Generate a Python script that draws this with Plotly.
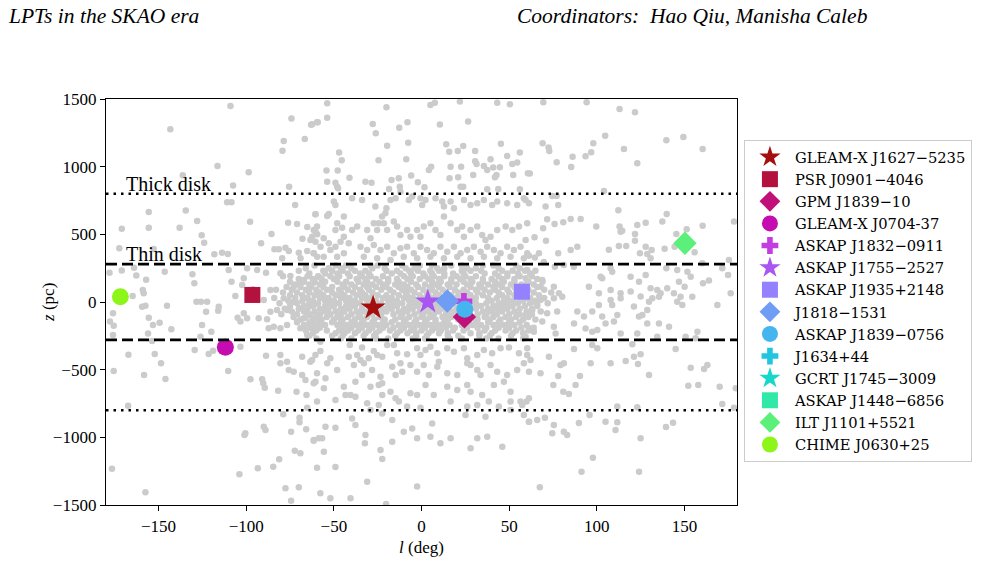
import plotly.graph_objects as go

# ---------------- LPT sources ----------------
lpt_names = ["GLEAM-X J1627−5235", "PSR J0901−4046", "GPM J1839−10", "GLEAM-X J0704-37",
             "ASKAP J1832−0911", "ASKAP J1755−2527", "ASKAP J1935+2148", "J1818−1531",
             "ASKAP J1839−0756", "J1634+44", "GCRT J1745−3009", "ASKAP J1448−6856",
             "ILT J1101+5521", "CHIME J0630+25"]
lpt_l = [-27.6, -96.5, 24.5, -111.9, 24.2, 3.6, 57.3, 14.7, 24.7, None, None, None, 150.3, -171.8]
lpt_z = [-42, 52, -110, -335, 5, 2, 76, 7, -54, None, None, None, 434, 39]
lpt_symbols = ["star", "square", "diamond", "circle", "cross", "star", "square", "diamond",
               "circle", "cross", "star", "square", "diamond", "circle"]
lpt_colors = ["#a50e0e", "#b3123f", "#c0107a", "#c40cb0", "#c23ee0", "#a955f2", "#9381ff",
              "#6f9cf5", "#45b5f0", "#20c5e0", "#15d8c8", "#30e8a8", "#5af07a", "#8ef51a"]

# ---------------- background pulsar population (l deg, z pc) ----------------
bg_upper_left = [
    (-109, 1449), (-143.3, 1276), (-116.4, 1005), (-136.2, 936), (-107.5, 860), (-110.9, 737), (-108.4, 737),
    (-155.6, 665), (-134.5, 677), (-128, 598), (-171, 542), (-155.6, 549), (-138, 549), (-125.4, 493),
    (-124, 438), (-172.4, 397), (-152.8, 392), (-118.2, 352), (-113.8, 364), (-110.5, 355), (-178, 217),
    (-171, 232), (-164, 254), (-162.7, 195), (-157.1, 165), (-146.5, 224), (-130.7, 205), (-129.6, 138),
    (-110, 236), (-108.4, 150),
    (-74.2, 1355), (-63, 1310), (-59.2, 1328), (-66.6, 1205), (-78.6, 1190), (-79.3, 1118), (-98.6, 958),
    (-75.5, 852), (-72.1, 717), (-60.5, 648), (-97.8, 593), (-76.1, 586), (-71, 576), (-65.2, 554),
    (-85.6, 502), (-91.5, 434), (-67.9, 468), (-63.4, 458), (-59.5, 500), (-61.5, 532), (-83.9, 389),
    (-81.4, 389), (-77.6, 401), (-75.7, 377), (-70, 364), (-65.2, 377), (-61.5, 360), (-59.5, 335),
    (-79.5, 323), (-69, 323),
    (-99.5, 249), (-93.8, 236), (-101.4, 175), (-102.3, 126), (-96.1, 94), (-88.7, 217), (-86.2, 89),
    (-80.5, 212), (-74.8, 192), (-72.9, 113), (-69.1, 138), (-67.2, 163), (-65.2, 89), (-61.5, 143),
    (-58.6, 187),
]
bg_lower_left = [
    (-164.8, 44), (-159, 89), (-158.5, 64), (-159.4, -35), (-157.5, -27), (-176, -84), (-177.7, -145),
    (-175.6, -175), (-176, -244), (-167.2, -389), (-175.6, -510), (-158.3, -539), (-155.6, -116),
    (-153.2, -170), (-149.4, -153), (-156, -232), (-153.7, -288), (-152.2, -384), (-148.6, -453),
    (-146.1, -569), (-145.2, -27), (-142.7, -202), (-128.4, 2), (-125.8, 2), (-122.3, 2), (-122.9, -72),
    (-125.2, -170), (-126.1, -256), (-119.9, -219), (-115.7, -35), (-116, -64), (-129.4, -355),
    (-121.4, -384), (-118.9, -360), (-110.3, -510), (-167.4, -766), (-176.6, -1232), (-157.5, -1406),
    (-103.9, -1273),
    (-106.2, 44), (-101.4, -84), (-99.5, -120), (-104.9, -116), (-103.3, -145), (-92.9, -120),
    (-88.1, -128), (-84.3, -183), (-87.2, -194),
    (-95.7, 27), (-90, 15), (-86.2, -72), (-82.4, -59), (-78.6, 27), (-76.7, -59), (-72.9, 2),
    (-69.1, -47), (-65.2, 27), (-61.5, -22), (-63.4, -96), (-67.2, -120), (-70.9, -145), (-76.7, -170),
    (-80.5, -194), (-69.1, -194), (-61.5, -194), (-58.6, -145), (-65.2, -244),
    (-103.3, -330), (-88.7, -397), (-97.6, -571), (-90.9, -571), (-90.3, -601), (-89.4, -633),
    (-81.8, -655), (-80.5, -392), (-80.5, -453), (-76.7, -441), (-75.7, -503), (-72.9, -515),
    (-68.1, -539), (-66.2, -576), (-68.1, -404), (-63.4, -441), (-60.5, -392), (-61.5, -601),
    (-71.3, -663), (-65.6, -687), (-65.2, -781), (-78.9, -830), (-69.6, -855), (-69.6, -889),
    (-90, -921), (-89, -946), (-100.5, -970), (-101, -983), (-74.4, -958), (-65.8, -941),
    (-61.5, -1025), (-58.6, -1007), (-72.3, -1099), (-69.1, -1118), (-81.2, -1162), (-93.4, -1229),
    (-84.6, -1217), (-77.6, -1377), (-70, -1369), (-74.4, -1468), (-20.2, -1493),
]
bg_upper_mid = [
    (-53.8, 1468), (-20.0, 1439), (5.1, 1456), (7.6, 1473), (21.9, 1481), (43.2, 1473), (50.4, 1461),
    (-59.6, 1328), (-62.4, 1313), (-53.8, 1362), (-27.8, 1315), (-26.1, 1246), (-12.7, 1288),
    (-8.0, 1328), (10.5, 1311), (26.6, 1333), (-19.6, 1155), (-7.6, 1177), (-47.0, 1104), (-45.5, 1047),
    (-24.5, 1047), (-8.7, 1054), (14.1, 1165), (15.8, 1111), (20.7, 1116), (23.8, 1153), (30.6, 1116),
    (30.6, 1040), (31.4, 1020), (45.3, 1170), (39.4, 1054), (48.9, 1079), (51.8, 1020), (54.6, 1030),
    (56.1, 1104), (-54.2, 971), (-47.8, 971), (-41.1, 919), (-53.8, 889), (-49.1, 882), (-48.1, 852),
    (-47.6, 840), (-32.0, 889), (-28.5, 882), (-17.1, 902), (-13.0, 914), (-12.4, 852), (-18.5, 835),
    (-5.9, 934), (-2.1, 884), (1.7, 847), (4.2, 976), (5.5, 1000), (16.6, 1000), (16.0, 914),
    (20.9, 921), (22.6, 1000), (22.3, 852), (23.8, 852), (29.5, 939), (35.6, 1005), (37.5, 976),
    (40.9, 993), (44.7, 995), (41.9, 921), (42.8, 939), (37.5, 833), (43.8, 835), (52.3, 939),
    (56.1, 833), (60.7, 951),
    (-60.5, 648), (-53.8, 636), (-52.9, 650), (-49.1, 717), (-50.0, 742), (-44.3, 631), (-48.1, 581),
    (-49.1, 532), (-45.3, 549), (-59.6, 557), (-60.5, 520), (-62.4, 483), (-60.5, 446), (-55.8, 471),
    (-52.9, 434), (-57.6, 409), (-52.0, 384), (-49.1, 409), (-61.5, 360), (-55.8, 335), (-48.1, 335),
    (-44.3, 360), (-41.5, 434), (-39.6, 532), (-44.3, 483), (-46.2, 446), (-39.6, 766),
    (-33.9, 754), (-26.3, 705), (-27.2, 581), (-24.4, 581), (-20.6, 655), (-22.5, 631), (-20.0, 692),
    (-17.7, 754), (-14.8, 766), (-12.0, 815), (-7.2, 754), (-5.3, 779), (-0.6, 766), (0.4, 717),
    (2.3, 754), (8.0, 766), (11.8, 742), (12.8, 705), (16.6, 742), (18.5, 692),
    (24.2, 754), (28.0, 717), (31.8, 729), (35.6, 754), (40.3, 717), (43.2, 742), (48.9, 729),
    (54.6, 717), (58.4, 766), (61.3, 729),
    (-36.7, 557), (-31.0, 532), (-29.1, 471), (-25.3, 532), (-21.5, 581), (-19.6, 532), (-15.8, 594),
    (-13.9, 557), (-12.0, 495), (-8.2, 532), (-6.3, 483), (-2.5, 532), (-0.6, 483), (1.3, 557),
    (5.1, 581), (8.0, 532), (10.8, 495), (12.8, 631), (16.6, 581), (20.4, 532), (23.2, 557),
    (24.2, 483), (28.0, 532), (31.8, 557), (34.6, 495), (36.5, 458), (39.4, 483), (43.2, 532),
    (48.0, 557), (51.8, 532), (55.6, 557), (59.4, 458), (60.3, 581),
    (-34.8, 409), (-31.0, 384), (-27.2, 421), (-23.4, 384), (-19.6, 409), (-15.8, 360), (-12.0, 397),
    (-8.2, 409), (-4.4, 360), (-0.6, 409), (3.2, 384), (7.0, 360), (10.8, 409), (14.7, 372),
    (18.5, 409), (22.3, 360), (26.1, 384), (29.9, 409), (33.7, 372), (37.5, 409), (41.3, 384),
    (45.1, 360), (48.9, 409), (52.7, 384), (56.5, 409), (60.3, 360),
    (-32.9, 335), (-25.3, 323), (-17.7, 311), (-10.1, 335), (-2.5, 323), (5.1, 335), (12.8, 323),
    (20.4, 335), (28.0, 323), (35.6, 335), (43.2, 323), (50.8, 335), (58.4, 323),
]
bg_lower_mid = [
    (-57.7, -293), (-57.7, -362), (-52.0, -416), (-40.9, -318), (-33.9, -337), (-41.5, -404),
    (-36.7, -392), (-34.8, -429), (-30.1, -416), (-27.2, -362), (-25.3, -392), (-22.4, -404),
    (-19.6, -318), (-15.8, -318), (-13.9, -379), (-8.2, -387), (-2.5, -342), (-0.6, -392), (2.3, -355),
    (5.1, -330), (9.0, -379), (14.7, -342), (18.5, -367), (24.2, -342), (26.1, -416), (31.8, -392),
    (35.6, -355), (40.3, -379), (45.1, -342), (49.9, -337), (55.6, -379), (60.3, -342),
    (-62.4, -428), (-53.8, -453), (-48.1, -502), (-59.6, -527), (-60.5, -589), (-54.8, -564),
    (-38.6, -466), (-32.9, -453), (-28.2, -502), (-33.9, -539), (-37.7, -589), (-44.3, -626),
    (-40.5, -687), (-23.4, -552), (-22.4, -601), (-16.7, -478), (-14.8, -539), (-11.0, -515),
    (-12.0, -453), (-6.3, -466), (-2.5, -515), (1.3, -466), (4.2, -539), (9.0, -478), (9.9, -441),
    (14.7, -527), (20.4, -539), (26.1, -453), (28.0, -466), (31.8, -502), (33.7, -539), (39.4, -466),
    (43.2, -515), (48.9, -539), (54.6, -502), (58.4, -453), (61.3, -515),
    (-55.7, -638), (-49.1, -724), (-43.4, -687), (-37.7, -700), (-29.1, -626), (-24.4, -613),
    (-22.4, -687), (-17.7, -663), (-14.8, -712), (-12.9, -736), (-6.3, -675), (-2.5, -687),
    (2.3, -613), (7.0, -687), (14.7, -626), (20.4, -650), (26.1, -613), (28.0, -663), (34.6, -687),
    (38.4, -736), (41.3, -613), (47.0, -589), (50.8, -663), (50.8, -736), (56.5, -736), (61.3, -712),
    (-59.6, -736), (-31.0, -749), (-24.4, -761), (-8.2, -773), (-0.6, -781), (16.6, -736),
    (26.1, -773), (31.8, -761), (44.1, -773),
    (-54.8, -921), (-49.1, -929), (-39.6, -860), (-37.7, -909), (-29.1, -798), (-22.4, -823),
    (-16.7, -872), (-10.1, -958), (-5.3, -934), (6.1, -897), (5.1, -995), (-2.5, -1007),
    (-16.7, -1032), (-32.0, -983), (-32.3, -1044), (-56.7, -1007), (-61.5, -1020), (16.6, -1007),
    (10.8, -1044), (31.8, -1007), (37.5, -995), (46.1, -1069), (28.0, -1081), (25.1, -835),
    (36.5, -847), (50.8, -798), (58.4, -835), (61.3, -884), (-23.4, -1094), (-55.7, -1106),
    (-22.4, -1160), (-59.6, -1224), (-49.1, -1219), (-31.0, -1328), (-2.5, -1364), (-57.7, -1414),
    (-52.0, -1451), (-40.5, -1451),
]
bg_upper_right = [
    (69.5, 1476), (94.2, 1476), (113.0, 1426), (121.8, 1402), (104.8, 1229), (139.7, 1195),
    (149.4, 1219), (160.4, 1131), (69.1, 1173), (72.5, 1141), (72.9, 1116), (98.0, 1173), (96.8, 1106),
    (93.6, 1077), (86.2, 1074), (85.4, 998), (77.1, 1032), (115.5, 1131), (123.1, 1025), (61.8, 949),
    (104.1, 820), (74.6, 783), (77.1, 783), (78.0, 717), (70.8, 705), (59.4, 754), (112.3, 678),
    (139.9, 651), (137.4, 594), (160.4, 564), (178.3, 594), (71.7, 611), (75.9, 577), (80.9, 589),
    (85.1, 614), (90.8, 614), (69.4, 545), (64.5, 478), (71.0, 453), (99.7, 557), (113.0, 557),
    (113.6, 520), (114.5, 527), (123.1, 569), (121.8, 503), (121.8, 453), (127.9, 586), (145.4, 503),
    (151.3, 537), (88.9, 409), (85.1, 384), (78.0, 360), (106.9, 387), (112.6, 414), (116.8, 414),
    (124.6, 360), (127.9, 409), (131.3, 384), (128.8, 355), (130.7, 323), (138.7, 394), (144.4, 409),
    (155.8, 367), (160.2, 286), (175.4, 311), (67.0, 360), (64.7, 328), (61.3, 342), (69.8, 296),
    (86.9, 261), (81.2, 274), (76.1, 261), (75.5, 113), (60.3, 237), (59.4, 175), (60.3, 138),
    (107.9, 249), (108.8, 224), (102.2, 187), (103.1, 175), (139.7, 249), (145.9, 237), (151.7, 224),
    (153.6, 187), (146.9, 150), (150.1, 113), (144.0, 64), (140.2, 101), (160.6, 138), (164.0, 158),
    (171.6, 249), (174.9, 200), (176.4, 64), (119.3, 187), (124.1, 150), (127.9, 200), (130.7, 101),
    (134.5, 89), (136.4, 64), (113.6, 64), (119.3, 77), (125.0, 40), (95.5, 113), (101.2, 64),
    (78.4, 64), (107.9, 89), (68.9, 163), (68.0, 113),
]
bg_lower_right = [
    (60.3, 27), (64.1, 2), (67.9, 15), (75.5, 27), (80.3, 39), (59.4, -96), (63.2, -59), (66.0, -22),
    (71.7, -84), (68.9, -145), (62.2, -195), (64.1, -219), (59.4, -256), (75.5, -182), (76.5, -232),
    (77.4, -71), (88.9, -71), (92.7, -108), (97.4, -71), (101.2, -22), (103.1, -108), (105.0, -158),
    (109.8, -145), (111.7, -96), (108.8, -22), (107.9, 15), (113.6, 27), (121.2, -34), (124.1, -108),
    (126.0, -96), (128.8, -59), (129.8, 2), (131.7, 27), (135.5, 39), (128.8, -158), (135.5, -158),
    (141.2, -182), (145.9, 2), (148.8, -22), (147.8, 39), (154.5, 39), (168.8, -22), (93.6, -195),
    (97.4, -219), (100.3, -207), (87.0, -158), (113.6, -232), (123.1, -232), (134.5, -256),
    (150.7, -256), (157.4, -219), (156.4, -268),
    (60.3, -392), (62.2, -429), (67.9, -527), (72.7, -404), (79.3, -466), (81.2, -453), (87.0, -347),
    (96.5, -453), (97.4, -318), (100.3, -342), (107.9, -453), (116.5, -436), (121.2, -404),
    (125.0, -387), (123.5, -458), (120.3, -313), (129.8, -539), (145.0, -347), (153.6, -485),
    (161.2, -495), (163.1, -466), (152.2, -618), (157.9, -613), (170.1, -626), (179.3, -638),
    (171.6, -754), (178.3, -781), (75.2, -613), (80.9, -663), (84.1, -680), (87.9, -613), (90.4, -547),
    (78.0, -547), (59.9, -736), (57.5, -761), (61.3, -884), (66.0, -872), (70.4, -855), (75.5, -909),
    (74.6, -970), (81.2, -958), (83.1, -983), (89.8, -894), (95.9, -835), (105.0, -884), (111.7, -889),
    (110.7, -946), (111.7, -773), (123.1, -778), (125.0, -1007), (139.5, -924), (143.5, -892),
    (97.8, -1150), (91.3, -1254), (124.1, -1254), (67.5, -1369),
]
# dense Galactic-plane core: each row is one z level (pc) with the l values (deg) read along it
core_z = [270, 250, 230, 210, 190, 170, 150, 130, 110, 90, 70, 50, 30, 10, -10, -30, -50, -70,
          -90, -110, -130, -150, -170, -190, -210, -230, -250, -270]
core_l = [
    [-61, -49, -43, -29, -25, -11, -1, 6, 17, 23, 35, 41, 54],
    [-66, -53, -46, -40, -28, -21, -9, -4, 9, 13, 26, 31, 44, 56],
    [-70, -56, -51, -45, -38, -32, -20, -14, -7, -2, 5, 10, 23, 28, 34, 46, 52, 59, 65],
    [-64, -55, -48, -42, -35, -30, -17, -12, -6, 1, 6, 13, 18, 24, 36, 42, 49, 55, 62],
    [-79, -65, -59, -52, -47, -41, -34, -29, -22, -10, -5, 2, 7, 13, 20, 25, 31, 44, 49, 56, 63],
    [-70, -62, -57, -50, -37, -32, -26, -19, -14, -8, -1, 4, 10, 17, 22, 28, 35, 40, 46, 53, 66],
    [-75, -67, -61, -55, -48, -43, -36, -31, -24, -19, -13, -6, 6, 11, 17, 24, 29, 35, 42, 47, 53, 61, 69],
    [-72, -64, -58, -45, -40, -33, -28, -22, -15, -10, -3, 2, 8, 15, 20, 26, 33, 38, 44, 51, 57, 64],
    [-77, -69, -63, -56, -51, -44, -38, -31, -26, -20, -13, -8, -2, 5, 10, 16, 28, 34, 41, 46, 53, 59, 66],
    [-83, -74, -66, -60, -54, -47, -42, -35, -30, -23, -18, -11, -6, 1, 6, 12, 19, 24, 31, 36, 42, 49, 54, 61, 70],
    [-79, -71, -64, -58, -51, -46, -39, -34, -28, -16, -9, -4, 3, 8, 14, 21, 26, 32, 39, 44, 50, 57, 64, 74],
    [-75, -68, -61, -56, -49, -44, -37, -32, -25, -20, -13, -8, -1, 4, 10, 17, 22, 28, 35, 46, 53, 59, 67],
    [-84, -72, -65, -58, -53, -46, -41, -34, -29, -22, -17, -10, -5, 2, 7, 13, 20, 25, 31, 38, 43, 49, 56, 62, 70],
    [-76, -68, -62, -55, -50, -43, -38, -31, -26, -19, -14, -7, -2, 4, 11, 16, 22, 29, 40, 47, 52, 58, 65],
    [-81, -71, -64, -59, -52, -47, -40, -35, -28, -23, -16, -11, -4, 1, 8, 13, 19, 26, 31, 37, 44, 49, 55, 62, 72],
    [-75, -67, -62, -55, -50, -43, -38, -26, -19, -14, -7, -2, 5, 10, 16, 23, 28, 34, 41, 46, 52, 59, 66],
    [-78, -70, -65, -58, -53, -46, -41, -34, -29, -22, -17, -10, -5, 2, 7, 13, 20, 25, 31, 38, 43, 49, 56, 63],
    [-74, -67, -61, -55, -49, -44, -37, -32, -25, -20, -13, -8, -1, 4, 10, 17, 22, 35, 40, 46, 53, 60, 68],
    [-80, -71, -64, -58, -52, -46, -40, -35, -28, -23, -16, -11, -4, 1, 7, 14, 19, 25, 32, 37, 43, 50, 56, 63],
    [-73, -66, -60, -54, -48, -42, -36, -31, -24, -12, -7, 0, 5, 12, 17, 24, 29, 36, 41, 48, 54, 61],
    [-69, -62, -57, -50, -45, -38, -33, -27, -21, -15, -9, -3, 3, 8, 15, 21, 27, 32, 39, 45, 51, 58, 65],
    [-71, -64, -58, -51, -46, -40, -34, -28, -22, -17, -10, -4, 2, 8, 13, 26, 31, 38, 44, 50, 56],
    [-67, -61, -55, -48, -43, -37, -31, -25, -20, -13, -7, -1, 5, 11, 16, 23, 29, 34, 41, 47, 53, 60],
    [-64, -58, -45, -40, -34, -28, -22, -16, -10, -4, 2, 8, 14, 19, 26, 32, 37, 44, 50, 57, 64],
    [-66, -60, -54, -47, -42, -36, -30, -24, -18, -12, -6, 0, 6, 11, 18, 24, 36, 42, 48, 54, 61],
    [-62, -49, -44, -38, -32, -26, -14, -8, -3, 4, 10, 15, 28, 33, 40, 52, 58],
    [-64, -51, -45, -33, -27, -15, -3, 3, 15, 21, 33, 39, 51],
    [-60, -46, -40, -26, -19, -5, 2, 16, 23, 37, 44, 58],
]

thin_disk_z = 280
thick_disk_z = 800

# ---------------- build ----------------
bg_l, bg_z = [], []
for grp in (bg_upper_left, bg_lower_left, bg_upper_mid, bg_lower_mid, bg_upper_right, bg_lower_right):
    for l, z in grp:
        bg_l.append(l)
        bg_z.append(z)
for z, row in zip(core_z, core_l):
    for l in row:
        bg_l.append(l)
        bg_z.append(z)

fig = go.Figure()
fig.add_trace(go.Scatter(x=bg_l, y=bg_z, mode="markers", showlegend=False, hoverinfo="skip",
                         marker=dict(color="#cbcbcb", size=6.5, line=dict(width=0))))

size_map = {"star": 19, "square": 16, "diamond": 18, "circle": 17, "cross": 14}
for i, name in enumerate(lpt_names):
    fig.add_trace(go.Scatter(
        x=[lpt_l[i]], y=[lpt_z[i]], mode="markers", name=name, legendgroup=name,
        marker=dict(symbol=lpt_symbols[i], color=lpt_colors[i], size=size_map[lpt_symbols[i]],
                    line=dict(width=0))))

# disk boundaries
for zz, dash in ((thin_disk_z, "11px,5px"), (-thin_disk_z, "11px,5px"),
                 (thick_disk_z, "2.5px,5px"), (-thick_disk_z, "2.5px,5px")):
    fig.add_shape(type="line", xref="paper", x0=0, x1=1, yref="y", y0=zz, y1=zz,
                  line=dict(color="black", width=2.6, dash=dash))

fig.add_annotation(x=-170, y=thick_disk_z, text="Thick disk", showarrow=False, xanchor="left",
                   yanchor="bottom", font=dict(size=20), yshift=-3)
fig.add_annotation(x=-170, y=thin_disk_z, text="Thin disk", showarrow=False, xanchor="left",
                   yanchor="bottom", font=dict(size=20), yshift=-3)

# page header
fig.add_annotation(xref="paper", yref="paper", x=-0.158, y=1.204, text="<i>LPTs in the SKAO era</i>",
                   showarrow=False, xanchor="left", yanchor="middle", font=dict(size=21.5))
fig.add_annotation(xref="paper", yref="paper", x=-0.158 + 509 / 631, y=1.204,
                   text="<i>Coordinators:  Hao Qiu, Manisha Caleb</i>",
                   showarrow=False, xanchor="left", yanchor="middle", font=dict(size=21.5))

# y-axis title placed as rotated text
fig.add_annotation(xref="paper", yref="paper", x=-0.092, y=0.5, text="<i>z</i> (pc)", textangle=-90,
                   showarrow=False, xanchor="center", yanchor="middle", font=dict(size=17))

axis_common = dict(showline=True, mirror=True, linecolor="black", linewidth=1.3, ticks="outside",
                   ticklen=5, tickwidth=1.3, tickcolor="black", showgrid=False, zeroline=False,
                   tickfont=dict(size=17))
fig.update_xaxes(range=[-180, 180], tickvals=[-150, -100, -50, 0, 50, 100, 150],
                 title=dict(text="<i>l</i> (deg)", font=dict(size=17), standoff=6), **axis_common)
fig.update_yaxes(range=[-1500, 1500], tickvals=[-1500, -1000, -500, 0, 500, 1000, 1500],
                 **axis_common)

fig.update_layout(
    width=984, height=563, margin=dict(l=106, r=247, t=99, b=58, autoexpand=False),
    paper_bgcolor="white", plot_bgcolor="white",
    font=dict(family="Liberation Serif", size=17, color="black"),
    legend=dict(x=1.011, y=0.899, xanchor="left", yanchor="top", bordercolor="#cccccc",
                borderwidth=1, font=dict(size=14.7, family="DejaVu Serif"), tracegroupgap=0,
                bgcolor="white", itemwidth=40),
)

fig.write_html("out.html")
